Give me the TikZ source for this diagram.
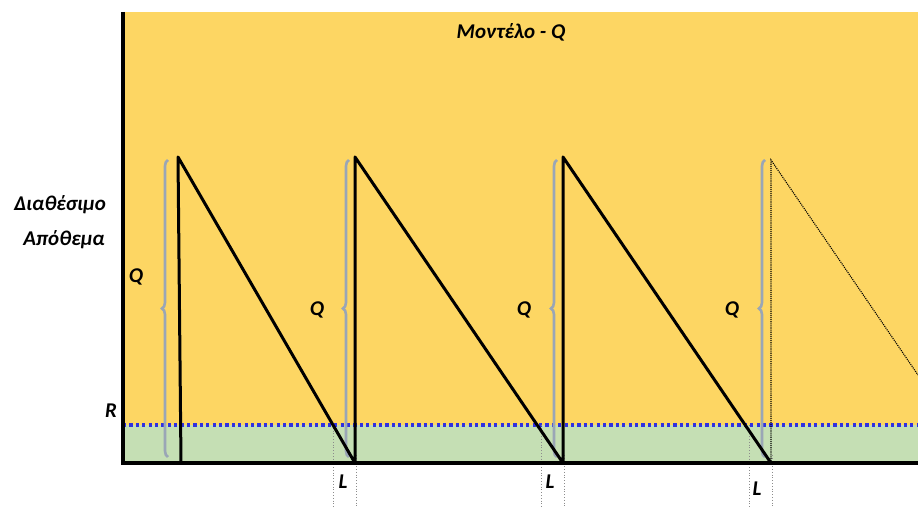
\documentclass[tikz,border=0pt]{standalone}
\usepackage{fontspec}
\setmainfont{Carlito}
\usepackage{xcolor}
\usetikzlibrary{decorations.pathreplacing, positioning}

\definecolor{stockfill}{HTML}{FDD663}
\definecolor{safetyfill}{HTML}{C5DFB4}
\definecolor{bracegray}{HTML}{9AA6B6}
\definecolor{rline}{HTML}{3030E0}

\begin{document}
\begin{tikzpicture}[
    x=1pt, y=-1pt,
    lbl/.style={font=\bfseries\itshape\fontsize{21}{25}\selectfont, inner sep=0pt},
    saw/.style={line width=3pt, line cap=round, line join=round},
    ghost/.style={line width=1.1pt, densely dotted},
    qbrace/.style={decorate, decoration={brace, amplitude=6pt}, draw=bracegray, line width=2.6pt},
    guide/.style={dotted, gray!90, line width=0.8pt},
    axis/.style={line width=4pt}
  ]
    \useasboundingbox (0,0) rectangle (918,510);

    % background areas
    \fill[stockfill]  (123,12)  rectangle (918,425);
    \fill[safetyfill] (123,425) rectangle (918,463);

    % reorder point line
    \coordinate (r0) at (123,425);
    \coordinate (r1) at (918,425);
    \draw[rline, line width=3.2pt, dash pattern=on 3.2pt off 3.2pt] (r0) -- (r1);

    % peaks and bottoms
    \coordinate (p1) at (178,157);  \coordinate (b0) at (181,463);
    \coordinate (p2) at (355,157);  \coordinate (b1) at (355,463);
    \coordinate (p3) at (563,157);  \coordinate (b2) at (563,463);
    \coordinate (p4) at (771,160);  \coordinate (b3) at (771,463);
    \coordinate (end) at (918,375);

    % guides for lead time
    \coordinate (g1) at (333,425);  \coordinate (g1e) at (333,507);
    \coordinate (g2) at (541,425);  \coordinate (g2e) at (541,507);
    \coordinate (g3) at (749,425);  \coordinate (g3e) at (749,507);
    \coordinate (h1) at (356,455);  \coordinate (h1e) at (356,507);
    \coordinate (h2) at (564,455);  \coordinate (h2e) at (564,507);
    \coordinate (h3) at (772,455);  \coordinate (h3e) at (772,507);
    \foreach \g in {g1,g2,g3,h1,h2,h3}
      \draw[guide] (\g) -- (\g e);

    % braces
    \draw[qbrace] (168,457) -- (168,160);
    \draw[qbrace] (349,457) -- (349,160);
    \draw[qbrace] (557,457) -- (557,160);
    \draw[qbrace] (765,457) -- (765,160);

    % stock curve
    \draw[saw] (b0) -- (p1) -- (b1) -- (p2) -- (b2) -- (p3) -- (b3);
    \draw[ghost] (b3) -- (p4) -- (end);

    % axes
    \coordinate (o)  at (123,463);
    \coordinate (yt) at (123,12);
    \coordinate (xr) at (918,463);
    \draw[axis] (yt) -- (o) -- (xr);

    % labels
    \node[lbl] (title) at (511,32)  {Μοντέλο - Q};
    \node[lbl] (ylab1) at (60,205)  {Διαθέσιμο};
    \node[lbl] (ylab2) at (64,240)  {Απόθεμα};
    \node[lbl] (rlab)  at (111,411) {R};
    \node[lbl] (q1)    at (136,277) {Q};
    \node[lbl] (q2)    at (317,310) {Q};
    \node[lbl] (q3)    at (524,310) {Q};
    \node[lbl] (q4)    at (732,310) {Q};
    \node[lbl] (l1)    at (343,482) {L};
    \node[lbl] (l2)    at (550,482) {L};
    \node[lbl] (l3)    at (757,489) {L};
  \end{tikzpicture}
\end{document}
